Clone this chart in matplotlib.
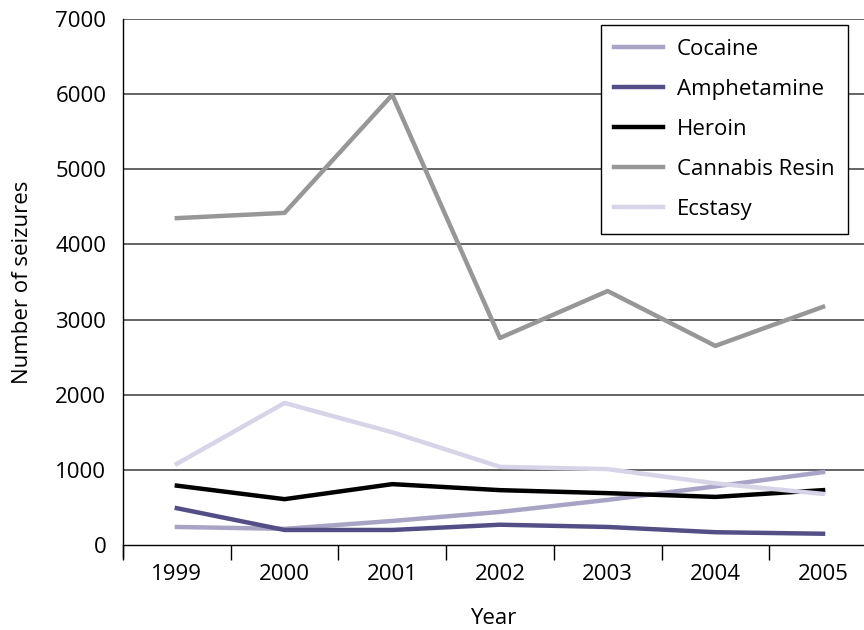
import matplotlib.pyplot as plt
from matplotlib.ticker import FixedLocator

plt.rcParams["font.family"] = ["Open Sans", "DejaVu Sans"]

YEARS = ["1999", "2000", "2001", "2002", "2003", "2004", "2005"]
COCAINE = [240, 215, 320, 440, 600, 780, 970]
AMPHETAMINE = [490, 200, 200, 270, 240, 170, 150]
HEROIN = [790, 610, 810, 730, 690, 640, 730]
CANNABIS_RESIN = [4350, 4420, 5990, 2755, 3380, 2650, 3170]
ECSTASY = [1080, 1890, 1500, 1040, 1010, 820, 680]

SERIES = [
    ("Cocaine", COCAINE, "#a8a4c6"),
    ("Amphetamine", AMPHETAMINE, "#534e86"),
    ("Heroin", HEROIN, "#000000"),
    ("Cannabis Resin", CANNABIS_RESIN, "#979797"),
    ("Ecstasy", ECSTASY, "#d6d4e6"),
]

FS = 16

fig = plt.figure(figsize=(8.64, 6.3), dpi=100)
ax = fig.add_axes([123 / 864, 1 - 545 / 630, 741 / 864, 526 / 630])

x = list(range(len(YEARS)))
for name, vals, color in SERIES:
    ax.plot(x, vals, color=color, lw=3.2, label=name, zorder=3)

ax.set_ylim(0, 7000)
ax.set_yticks(range(0, 7001, 1000))
ax.set_xlim(-0.5, -0.5 + 741 / 107.7)
ax.set_xticks(x)
ax.set_xticklabels(YEARS)
ax.xaxis.set_minor_locator(FixedLocator([i - 0.5 for i in range(len(YEARS))]))
ax.tick_params(axis="x", which="major", length=0, pad=14, labelsize=FS)
ax.tick_params(axis="x", which="minor", length=11, width=1, color="black")
ax.tick_params(axis="y", length=0, labelsize=FS, pad=12)

for v in range(1000, 7001, 1000):
    ax.axhline(v, color="#3a3a3a", lw=1.1, zorder=1)

for s in ["top", "right"]:
    ax.spines[s].set_visible(False)
ax.spines["left"].set_linewidth(1)
ax.spines["bottom"].set_linewidth(1)
ax.spines["left"].set_bounds(-160, 7000)
ax.spines["left"].set_clip_on(False)

ax.set_xlabel("Year", fontsize=FS, labelpad=16)
ax.set_ylabel("Number of seizures", fontsize=FS, labelpad=16)

leg = ax.legend(loc="upper right", bbox_to_anchor=(725 / 741, 1 - 6 / 526),
                fontsize=FS, frameon=True, fancybox=False, handlelength=2.2,
                handletextpad=0.6, labelspacing=0.86, borderpad=0.62,
                borderaxespad=0)
leg.get_frame().set_edgecolor("black")
leg.get_frame().set_linewidth(1)
leg.get_frame().set_alpha(1)
leg.set_zorder(5)

fig.savefig("out.png", dpi=100)
